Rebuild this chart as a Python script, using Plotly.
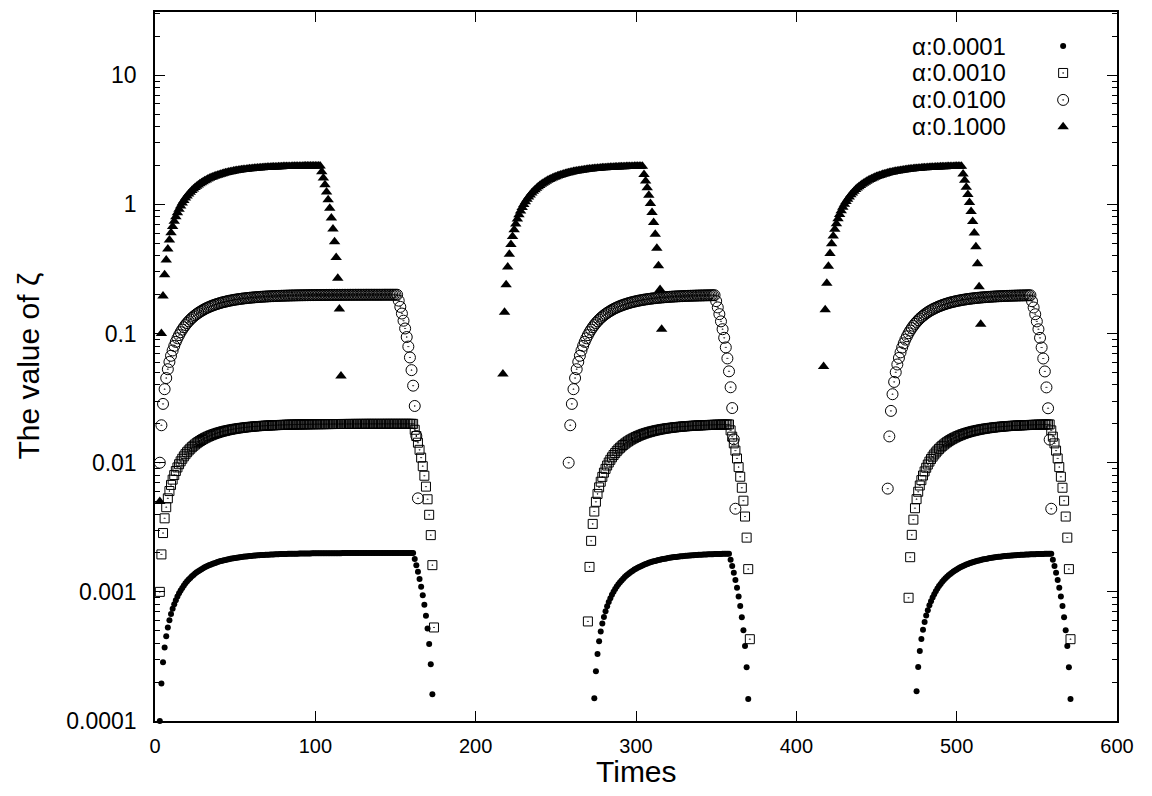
import plotly.graph_objects as go

# ---------------- data ----------------
SERIES_NAMES = ["α:0.0001", "α:0.0010", "α:0.0100", "α:0.1000"]
X_TICKS = [0, 100, 200, 300, 400, 500, 600]
Y_TICKS = [1e-4, 1e-3, 1e-2, 1e-1, 1, 10]
Y_TICK_TEXT = ["0.0001", "0.001", "0.01", "0.1", "1", "10"]

# first time step of each plotted segment (consecutive integer time steps follow)
DOT_STARTS = [3, 274, 475]
SQR_STARTS = [3, 270, 470]
CIR_STARTS = [3, 258, 457]
TRI_STARTS = [3, 217, 417]

# ---- alpha = 0.0001 (filled dots) ----
DOT_SEG1 = [
    1.0e-4, 1.95e-4, 2.853e-4, 3.71e-4, 4.524e-4, 5.298e-4, 6.033e-4, 6.732e-4, 7.395e-4, 8.025e-4,
    8.624e-4, 9.193e-4, 9.733e-4, 10.25e-4, 10.73e-4, 11.2e-4, 11.64e-4, 12.06e-4, 12.45e-4, 12.83e-4,
    13.19e-4, 13.53e-4, 13.85e-4, 14.16e-4, 14.45e-4, 14.73e-4, 14.99e-4, 15.24e-4, 15.48e-4, 15.71e-4,
    15.92e-4, 16.13e-4, 16.32e-4, 16.5e-4, 16.68e-4, 16.84e-4, 17.0e-4, 17.15e-4, 17.3e-4, 17.43e-4,
    17.56e-4, 17.68e-4, 17.8e-4, 17.91e-4, 18.01e-4, 18.11e-4, 18.21e-4, 18.3e-4, 18.38e-4, 18.46e-4,
    18.54e-4, 18.61e-4, 18.68e-4, 18.75e-4, 18.81e-4, 18.87e-4, 18.93e-4, 18.98e-4, 19.03e-4, 19.08e-4,
    19.13e-4, 19.17e-4, 19.21e-4, 19.25e-4, 19.29e-4, 19.32e-4, 19.36e-4, 19.39e-4, 19.42e-4, 19.45e-4,
    19.48e-4, 19.5e-4, 19.53e-4, 19.55e-4, 19.57e-4, 19.6e-4, 19.62e-4, 19.63e-4, 19.65e-4, 19.67e-4,
    19.69e-4, 19.7e-4, 19.72e-4, 19.73e-4, 19.74e-4, 19.76e-4, 19.77e-4, 19.78e-4, 19.79e-4, 19.8e-4,
    19.81e-4, 19.82e-4, 19.83e-4, 19.84e-4, 19.85e-4, 19.86e-4, 19.86e-4, 19.87e-4, 19.88e-4, 19.88e-4,
    19.89e-4, 19.89e-4, 19.9e-4, 19.9e-4, 19.91e-4, 19.91e-4, 19.92e-4, 19.92e-4, 19.93e-4, 19.93e-4,
    19.93e-4, 19.94e-4, 19.94e-4, 19.94e-4, 19.95e-4, 19.95e-4, 19.95e-4, 19.95e-4, 19.96e-4, 19.96e-4,
    19.96e-4, 19.96e-4, 19.97e-4, 19.97e-4, 19.97e-4, 19.97e-4, 19.97e-4, 19.97e-4, 19.98e-4, 19.98e-4,
    19.98e-4, 19.98e-4, 19.98e-4, 19.98e-4, 19.98e-4, 19.98e-4, 19.98e-4, 19.98e-4, 19.98e-4, 19.98e-4,
    19.99e-4, 19.99e-4, 19.99e-4, 19.99e-4, 19.99e-4, 19.99e-4, 19.99e-4, 19.99e-4, 19.99e-4, 19.99e-4,
    19.99e-4, 19.99e-4, 19.99e-4, 19.99e-4, 19.99e-4, 19.99e-4, 19.99e-4, 19.99e-4, 19.99e-4,
    17.99e-4, 16.09e-4, 14.29e-4, 12.58e-4, 10.95e-4, 9.4e-4, 7.93e-4, 6.53e-4, 5.21e-4, 3.95e-4,
    2.75e-4, 1.61e-4,
]
DOT_SEG2 = [
    1.5e-4, 2.425e-4, 3.304e-4, 4.139e-4, 4.932e-4, 5.685e-4, 6.401e-4, 7.081e-4, 7.727e-4, 8.34e-4,
    8.923e-4, 9.477e-4, 10.0e-4, 10.5e-4, 10.98e-4, 11.43e-4, 11.86e-4, 12.27e-4, 12.65e-4, 13.02e-4,
    13.37e-4, 13.7e-4, 14.02e-4, 14.31e-4, 14.6e-4, 14.87e-4, 15.13e-4, 15.37e-4, 15.6e-4, 15.82e-4,
    16.03e-4, 16.23e-4, 16.42e-4, 16.6e-4, 16.77e-4, 16.93e-4, 17.08e-4, 17.23e-4, 17.37e-4, 17.5e-4,
    17.62e-4, 17.74e-4, 17.85e-4, 17.96e-4, 18.06e-4, 18.16e-4, 18.25e-4, 18.34e-4, 18.42e-4, 18.5e-4,
    18.58e-4, 18.65e-4, 18.72e-4, 18.78e-4, 18.84e-4, 18.9e-4, 18.95e-4, 19.01e-4, 19.06e-4, 19.1e-4,
    19.15e-4, 19.19e-4, 19.23e-4, 19.27e-4, 19.31e-4, 19.34e-4, 19.37e-4, 19.41e-4, 19.44e-4, 19.46e-4,
    19.49e-4, 19.52e-4, 19.54e-4, 19.56e-4, 19.58e-4, 19.61e-4, 19.63e-4, 19.64e-4, 19.66e-4, 19.68e-4,
    19.69e-4, 19.71e-4, 19.72e-4, 19.74e-4, 19.75e-4,
    17.76e-4, 15.87e-4, 14.08e-4, 12.38e-4, 10.76e-4, 9.22e-4, 7.76e-4, 6.37e-4, 5.05e-4, 3.8e-4,
    2.61e-4, 1.48e-4,
]
DOT_SEG3 = [
    1.7e-4, 2.615e-4, 3.484e-4, 4.31e-4, 5.095e-4, 5.84e-4, 6.548e-4, 7.22e-4, 7.859e-4, 8.466e-4,
    9.043e-4, 9.591e-4, 10.11e-4, 10.61e-4, 11.08e-4, 11.52e-4, 11.95e-4, 12.35e-4, 12.73e-4, 13.09e-4,
    13.44e-4, 13.77e-4, 14.08e-4, 14.38e-4, 14.66e-4, 14.92e-4, 15.18e-4, 15.42e-4, 15.65e-4, 15.87e-4,
    16.07e-4, 16.27e-4, 16.46e-4, 16.63e-4, 16.8e-4, 16.96e-4, 17.11e-4, 17.26e-4, 17.39e-4, 17.52e-4,
    17.65e-4, 17.77e-4, 17.88e-4, 17.98e-4, 18.08e-4, 18.18e-4, 18.27e-4, 18.36e-4, 18.44e-4, 18.52e-4,
    18.59e-4, 18.66e-4, 18.73e-4, 18.79e-4, 18.85e-4, 18.91e-4, 18.96e-4, 19.02e-4, 19.07e-4, 19.11e-4,
    19.16e-4, 19.2e-4, 19.24e-4, 19.28e-4, 19.31e-4, 19.35e-4, 19.38e-4, 19.41e-4, 19.44e-4, 19.47e-4,
    19.5e-4, 19.52e-4, 19.54e-4, 19.57e-4, 19.59e-4, 19.61e-4, 19.63e-4, 19.65e-4, 19.66e-4, 19.68e-4,
    19.7e-4, 19.71e-4, 19.73e-4, 19.74e-4, 19.75e-4,
    17.76e-4, 15.87e-4, 14.08e-4, 12.38e-4, 10.76e-4, 9.22e-4, 7.76e-4, 6.37e-4, 5.05e-4, 3.8e-4,
    2.61e-4, 1.48e-4,
]

# ---- alpha = 0.0010 (open squares) ----
SQR_SEG1 = [
    1.0e-3, 1.95e-3, 2.853e-3, 3.71e-3, 4.524e-3, 5.298e-3, 6.033e-3, 6.732e-3, 7.395e-3, 8.025e-3,
    8.624e-3, 9.193e-3, 9.733e-3, 10.25e-3, 10.73e-3, 11.2e-3, 11.64e-3, 12.06e-3, 12.45e-3, 12.83e-3,
    13.19e-3, 13.53e-3, 13.85e-3, 14.16e-3, 14.45e-3, 14.73e-3, 14.99e-3, 15.24e-3, 15.48e-3, 15.71e-3,
    15.92e-3, 16.13e-3, 16.32e-3, 16.5e-3, 16.68e-3, 16.84e-3, 17.0e-3, 17.15e-3, 17.3e-3, 17.43e-3,
    17.56e-3, 17.68e-3, 17.8e-3, 17.91e-3, 18.01e-3, 18.11e-3, 18.21e-3, 18.3e-3, 18.38e-3, 18.46e-3,
    18.54e-3, 18.61e-3, 18.68e-3, 18.75e-3, 18.81e-3, 18.87e-3, 18.93e-3, 18.98e-3, 19.03e-3, 19.08e-3,
    19.13e-3, 19.17e-3, 19.21e-3, 19.25e-3, 19.29e-3, 19.32e-3, 19.36e-3, 19.39e-3, 19.42e-3, 19.45e-3,
    19.48e-3, 19.5e-3, 19.53e-3, 19.55e-3, 19.57e-3, 19.6e-3, 19.62e-3, 19.63e-3, 19.65e-3, 19.67e-3,
    19.69e-3, 19.7e-3, 19.72e-3, 19.73e-3, 19.74e-3, 19.76e-3, 19.77e-3, 19.78e-3, 19.79e-3, 19.8e-3,
    19.81e-3, 19.82e-3, 19.83e-3, 19.84e-3, 19.85e-3, 19.86e-3, 19.86e-3, 19.87e-3, 19.88e-3, 19.88e-3,
    19.89e-3, 19.89e-3, 19.9e-3, 19.9e-3, 19.91e-3, 19.91e-3, 19.92e-3, 19.92e-3, 19.93e-3, 19.93e-3,
    19.93e-3, 19.94e-3, 19.94e-3, 19.94e-3, 19.95e-3, 19.95e-3, 19.95e-3, 19.95e-3, 19.96e-3, 19.96e-3,
    19.96e-3, 19.96e-3, 19.97e-3, 19.97e-3, 19.97e-3, 19.97e-3, 19.97e-3, 19.97e-3, 19.98e-3, 19.98e-3,
    19.98e-3, 19.98e-3, 19.98e-3, 19.98e-3, 19.98e-3, 19.98e-3, 19.98e-3, 19.98e-3, 19.98e-3, 19.98e-3,
    19.99e-3, 19.99e-3, 19.99e-3, 19.99e-3, 19.99e-3, 19.99e-3, 19.99e-3, 19.99e-3, 19.99e-3, 19.99e-3,
    19.99e-3, 19.99e-3, 19.99e-3, 19.99e-3, 19.99e-3, 19.99e-3, 19.99e-3, 19.99e-3, 19.99e-3,
    17.99e-3, 16.09e-3, 14.29e-3, 12.58e-3, 10.95e-3, 9.4e-3, 7.93e-3, 6.53e-3, 5.21e-3, 3.95e-3,
    2.75e-3, 1.61e-3, 0.53e-3,
]
SQR_SEG2 = [
    0.59e-3, 1.56e-3, 2.482e-3, 3.358e-3, 4.19e-3, 4.981e-3, 5.732e-3, 6.445e-3, 7.123e-3, 7.767e-3,
    8.378e-3, 8.96e-3, 9.512e-3, 10.04e-3, 10.53e-3, 11.01e-3, 11.46e-3, 11.88e-3, 12.29e-3, 12.68e-3,
    13.04e-3, 13.38e-3, 13.71e-3, 14.03e-3, 14.33e-3, 14.61e-3, 14.88e-3, 15.14e-3, 15.38e-3, 15.61e-3,
    15.83e-3, 16.04e-3, 16.24e-3, 16.43e-3, 16.61e-3, 16.78e-3, 16.94e-3, 17.09e-3, 17.24e-3, 17.37e-3,
    17.51e-3, 17.63e-3, 17.75e-3, 17.86e-3, 17.97e-3, 18.07e-3, 18.17e-3, 18.26e-3, 18.35e-3, 18.43e-3,
    18.51e-3, 18.58e-3, 18.65e-3, 18.72e-3, 18.78e-3, 18.84e-3, 18.9e-3, 18.96e-3, 19.01e-3, 19.06e-3,
    19.11e-3, 19.15e-3, 19.19e-3, 19.23e-3, 19.27e-3, 19.31e-3, 19.34e-3, 19.38e-3, 19.41e-3, 19.44e-3,
    19.47e-3, 19.49e-3, 19.52e-3, 19.54e-3, 19.56e-3, 19.59e-3, 19.61e-3, 19.63e-3, 19.64e-3, 19.66e-3,
    19.68e-3, 19.7e-3, 19.71e-3, 19.73e-3, 19.74e-3, 19.75e-3, 19.76e-3, 19.78e-3, 19.79e-3,
    17.8e-3, 15.91e-3, 14.12e-3, 12.41e-3, 10.79e-3, 9.25e-3, 7.79e-3, 6.4e-3, 5.08e-3, 3.83e-3,
    2.63e-3, 1.5e-3, 0.43e-3,
]
SQR_SEG3 = [
    0.9e-3, 1.855e-3, 2.762e-3, 3.624e-3, 4.443e-3, 5.221e-3, 5.96e-3, 6.662e-3, 7.329e-3, 7.962e-3,
    8.564e-3, 9.136e-3, 9.679e-3, 10.2e-3, 10.69e-3, 11.15e-3, 11.59e-3, 12.01e-3, 12.41e-3, 12.79e-3,
    13.15e-3, 13.5e-3, 13.82e-3, 14.13e-3, 14.42e-3, 14.7e-3, 14.97e-3, 15.22e-3, 15.46e-3, 15.68e-3,
    15.9e-3, 16.11e-3, 16.3e-3, 16.49e-3, 16.66e-3, 16.83e-3, 16.99e-3, 17.14e-3, 17.28e-3, 17.42e-3,
    17.55e-3, 17.67e-3, 17.78e-3, 17.9e-3, 18.0e-3, 18.1e-3, 18.2e-3, 18.29e-3, 18.37e-3, 18.45e-3,
    18.53e-3, 18.6e-3, 18.67e-3, 18.74e-3, 18.8e-3, 18.86e-3, 18.92e-3, 18.97e-3, 19.03e-3, 19.07e-3,
    19.12e-3, 19.16e-3, 19.21e-3, 19.25e-3, 19.28e-3, 19.32e-3, 19.35e-3, 19.39e-3, 19.42e-3, 19.45e-3,
    19.47e-3, 19.5e-3, 19.52e-3, 19.55e-3, 19.57e-3, 19.59e-3, 19.61e-3, 19.63e-3, 19.65e-3, 19.67e-3,
    19.68e-3, 19.7e-3, 19.72e-3, 19.73e-3, 19.74e-3, 19.76e-3, 19.77e-3, 19.78e-3, 19.79e-3,
    17.8e-3, 15.91e-3, 14.12e-3, 12.41e-3, 10.79e-3, 9.25e-3, 7.79e-3, 6.4e-3, 5.08e-3, 3.83e-3,
    2.63e-3, 1.5e-3, 0.43e-3,
]

# ---- alpha = 0.0100 (open circles) ----
CIR_SEG1 = [
    1.0e-2, 1.95e-2, 2.853e-2, 3.71e-2, 4.524e-2, 5.298e-2, 6.033e-2, 6.732e-2, 7.395e-2, 8.025e-2,
    8.624e-2, 9.193e-2, 9.733e-2, 10.25e-2, 10.73e-2, 11.2e-2, 11.64e-2, 12.06e-2, 12.45e-2, 12.83e-2,
    13.19e-2, 13.53e-2, 13.85e-2, 14.16e-2, 14.45e-2, 14.73e-2, 14.99e-2, 15.24e-2, 15.48e-2, 15.71e-2,
    15.92e-2, 16.13e-2, 16.32e-2, 16.5e-2, 16.68e-2, 16.84e-2, 17.0e-2, 17.15e-2, 17.3e-2, 17.43e-2,
    17.56e-2, 17.68e-2, 17.8e-2, 17.91e-2, 18.01e-2, 18.11e-2, 18.21e-2, 18.3e-2, 18.38e-2, 18.46e-2,
    18.54e-2, 18.61e-2, 18.68e-2, 18.75e-2, 18.81e-2, 18.87e-2, 18.93e-2, 18.98e-2, 19.03e-2, 19.08e-2,
    19.13e-2, 19.17e-2, 19.21e-2, 19.25e-2, 19.29e-2, 19.32e-2, 19.36e-2, 19.39e-2, 19.42e-2, 19.45e-2,
    19.48e-2, 19.5e-2, 19.53e-2, 19.55e-2, 19.57e-2, 19.6e-2, 19.62e-2, 19.63e-2, 19.65e-2, 19.67e-2,
    19.69e-2, 19.7e-2, 19.72e-2, 19.73e-2, 19.74e-2, 19.76e-2, 19.77e-2, 19.78e-2, 19.79e-2, 19.8e-2,
    19.81e-2, 19.82e-2, 19.83e-2, 19.84e-2, 19.85e-2, 19.86e-2, 19.86e-2, 19.87e-2, 19.88e-2, 19.88e-2,
    19.89e-2, 19.89e-2, 19.9e-2, 19.9e-2, 19.91e-2, 19.91e-2, 19.92e-2, 19.92e-2, 19.93e-2, 19.93e-2,
    19.93e-2, 19.94e-2, 19.94e-2, 19.94e-2, 19.95e-2, 19.95e-2, 19.95e-2, 19.95e-2, 19.96e-2, 19.96e-2,
    19.96e-2, 19.96e-2, 19.97e-2, 19.97e-2, 19.97e-2, 19.97e-2, 19.97e-2, 19.97e-2, 19.98e-2, 19.98e-2,
    19.98e-2, 19.98e-2, 19.98e-2, 19.98e-2, 19.98e-2, 19.98e-2, 19.98e-2, 19.98e-2, 19.98e-2, 19.98e-2,
    19.99e-2, 19.99e-2, 19.99e-2, 19.99e-2, 19.99e-2, 19.99e-2, 19.99e-2, 19.99e-2, 19.99e-2,
    17.99e-2, 16.09e-2, 14.29e-2, 12.58e-2, 10.95e-2, 9.4e-2, 7.93e-2, 6.53e-2, 5.21e-2, 3.95e-2,
    2.75e-2, 1.61e-2, 0.53e-2,
]
CIR_SEG2 = [
    1.0e-2, 1.95e-2, 2.853e-2, 3.71e-2, 4.524e-2, 5.298e-2, 6.033e-2, 6.732e-2, 7.395e-2, 8.025e-2,
    8.624e-2, 9.193e-2, 9.733e-2, 10.25e-2, 10.73e-2, 11.2e-2, 11.64e-2, 12.06e-2, 12.45e-2, 12.83e-2,
    13.19e-2, 13.53e-2, 13.85e-2, 14.16e-2, 14.45e-2, 14.73e-2, 14.99e-2, 15.24e-2, 15.48e-2, 15.71e-2,
    15.92e-2, 16.13e-2, 16.32e-2, 16.5e-2, 16.68e-2, 16.84e-2, 17.0e-2, 17.15e-2, 17.3e-2, 17.43e-2,
    17.56e-2, 17.68e-2, 17.8e-2, 17.91e-2, 18.01e-2, 18.11e-2, 18.21e-2, 18.3e-2, 18.38e-2, 18.46e-2,
    18.54e-2, 18.61e-2, 18.68e-2, 18.75e-2, 18.81e-2, 18.87e-2, 18.93e-2, 18.98e-2, 19.03e-2, 19.08e-2,
    19.13e-2, 19.17e-2, 19.21e-2, 19.25e-2, 19.29e-2, 19.32e-2, 19.36e-2, 19.39e-2, 19.42e-2, 19.45e-2,
    19.48e-2, 19.5e-2, 19.53e-2, 19.55e-2, 19.57e-2, 19.6e-2, 19.62e-2, 19.63e-2, 19.65e-2, 19.67e-2,
    19.69e-2, 19.7e-2, 19.72e-2, 19.73e-2, 19.74e-2, 19.76e-2, 19.77e-2, 19.78e-2, 19.79e-2, 19.8e-2,
    19.81e-2, 19.82e-2,
    17.83e-2, 15.94e-2, 14.14e-2, 12.43e-2, 10.81e-2, 9.27e-2, 7.81e-2, 6.42e-2, 5.1e-2, 3.84e-2,
    2.65e-2, 1.52e-2, 0.44e-2,
]
CIR_SEG3 = [
    0.63e-2, 1.598e-2, 2.519e-2, 3.392e-2, 4.223e-2, 5.012e-2, 5.761e-2, 6.473e-2, 7.15e-2, 7.792e-2,
    8.403e-2, 8.983e-2, 9.534e-2, 10.06e-2, 10.55e-2, 11.03e-2, 11.48e-2, 11.9e-2, 12.31e-2, 12.69e-2,
    13.06e-2, 13.4e-2, 13.73e-2, 14.05e-2, 14.34e-2, 14.63e-2, 14.9e-2, 15.15e-2, 15.39e-2, 15.62e-2,
    15.84e-2, 16.04e-2, 16.24e-2, 16.43e-2, 16.61e-2, 16.78e-2, 16.94e-2, 17.09e-2, 17.24e-2, 17.38e-2,
    17.51e-2, 17.63e-2, 17.75e-2, 17.86e-2, 17.97e-2, 18.07e-2, 18.17e-2, 18.26e-2, 18.35e-2, 18.43e-2,
    18.51e-2, 18.58e-2, 18.65e-2, 18.72e-2, 18.78e-2, 18.84e-2, 18.9e-2, 18.96e-2, 19.01e-2, 19.06e-2,
    19.11e-2, 19.15e-2, 19.19e-2, 19.23e-2, 19.27e-2, 19.31e-2, 19.34e-2, 19.38e-2, 19.41e-2, 19.44e-2,
    19.47e-2, 19.49e-2, 19.52e-2, 19.54e-2, 19.56e-2, 19.59e-2, 19.61e-2, 19.63e-2, 19.64e-2, 19.66e-2,
    19.68e-2, 19.7e-2, 19.71e-2, 19.73e-2, 19.74e-2, 19.75e-2, 19.76e-2, 19.78e-2, 19.79e-2, 19.8e-2,
    17.81e-2, 15.92e-2, 14.12e-2, 12.42e-2, 10.8e-2, 9.26e-2, 7.8e-2, 6.41e-2, 5.09e-2, 3.83e-2,
    2.64e-2, 1.51e-2, 0.44e-2,
]

# ---- alpha = 0.1000 (filled triangles) ----
TRI_SEG1 = [
    0.05e-1,
    1.0e-1, 1.95e-1, 2.853e-1, 3.71e-1, 4.524e-1, 5.298e-1, 6.033e-1, 6.732e-1, 7.395e-1, 8.025e-1,
    8.624e-1, 9.193e-1, 9.733e-1, 10.25e-1, 10.73e-1, 11.2e-1, 11.64e-1, 12.06e-1, 12.45e-1, 12.83e-1,
    13.19e-1, 13.53e-1, 13.85e-1, 14.16e-1, 14.45e-1, 14.73e-1, 14.99e-1, 15.24e-1, 15.48e-1, 15.71e-1,
    15.92e-1, 16.13e-1, 16.32e-1, 16.5e-1, 16.68e-1, 16.84e-1, 17.0e-1, 17.15e-1, 17.3e-1, 17.43e-1,
    17.56e-1, 17.68e-1, 17.8e-1, 17.91e-1, 18.01e-1, 18.11e-1, 18.21e-1, 18.3e-1, 18.38e-1, 18.46e-1,
    18.54e-1, 18.61e-1, 18.68e-1, 18.75e-1, 18.81e-1, 18.87e-1, 18.93e-1, 18.98e-1, 19.03e-1, 19.08e-1,
    19.13e-1, 19.17e-1, 19.21e-1, 19.25e-1, 19.29e-1, 19.32e-1, 19.36e-1, 19.39e-1, 19.42e-1, 19.45e-1,
    19.48e-1, 19.5e-1, 19.53e-1, 19.55e-1, 19.57e-1, 19.6e-1, 19.62e-1, 19.63e-1, 19.65e-1, 19.67e-1,
    19.69e-1, 19.7e-1, 19.72e-1, 19.73e-1, 19.74e-1, 19.76e-1, 19.77e-1, 19.78e-1, 19.79e-1, 19.8e-1,
    19.81e-1, 19.82e-1, 19.83e-1, 19.84e-1, 19.85e-1, 19.86e-1, 19.86e-1, 19.87e-1, 19.88e-1, 19.88e-1,
    17.89e-1, 15.99e-1, 14.19e-1, 12.48e-1, 10.86e-1, 9.32e-1, 7.85e-1, 6.46e-1, 5.14e-1, 3.88e-1,
    2.68e-1, 1.55e-1, 0.47e-1,
]
TRI_SEG2 = [
    0.487e-1, 1.463e-1, 2.39e-1, 3.27e-1, 4.106e-1, 4.901e-1, 5.656e-1, 6.373e-1, 7.055e-1, 7.702e-1,
    8.317e-1, 8.901e-1, 9.456e-1, 9.983e-1, 10.48e-1, 10.96e-1, 11.41e-1, 11.84e-1, 12.25e-1, 12.64e-1,
    13.0e-1, 13.36e-1, 13.69e-1, 14.0e-1, 14.3e-1, 14.59e-1, 14.86e-1, 15.12e-1, 15.36e-1, 15.59e-1,
    15.81e-1, 16.02e-1, 16.22e-1, 16.41e-1, 16.59e-1, 16.76e-1, 16.92e-1, 17.08e-1, 17.22e-1, 17.36e-1,
    17.49e-1, 17.62e-1, 17.74e-1, 17.85e-1, 17.96e-1, 18.06e-1, 18.16e-1, 18.25e-1, 18.34e-1, 18.42e-1,
    18.5e-1, 18.57e-1, 18.65e-1, 18.71e-1, 18.78e-1, 18.84e-1, 18.9e-1, 18.95e-1, 19.0e-1, 19.05e-1,
    19.1e-1, 19.15e-1, 19.19e-1, 19.23e-1, 19.27e-1, 19.3e-1, 19.34e-1, 19.37e-1, 19.4e-1, 19.43e-1,
    19.46e-1, 19.49e-1, 19.51e-1, 19.54e-1, 19.56e-1, 19.58e-1, 19.6e-1, 19.62e-1, 19.64e-1, 19.66e-1,
    19.68e-1, 19.69e-1, 19.71e-1, 19.72e-1, 19.74e-1, 19.75e-1, 19.76e-1, 19.78e-1,
    17.05e-1, 15.2e-1, 13.44e-1, 11.77e-1, 10.18e-1, 8.67e-1, 7.24e-1, 5.88e-1, 4.58e-1, 3.35e-1,
    2.19e-1, 1.08e-1,
]
TRI_SEG3 = [
    0.555e-1, 1.527e-1, 2.451e-1, 3.328e-1, 4.162e-1, 4.954e-1, 5.706e-1, 6.421e-1, 7.1e-1, 7.745e-1,
    8.358e-1, 8.94e-1, 9.493e-1, 10.02e-1, 10.52e-1, 10.99e-1, 11.44e-1, 11.87e-1, 12.28e-1, 12.66e-1,
    13.03e-1, 13.38e-1, 13.71e-1, 14.02e-1, 14.32e-1, 14.61e-1, 14.88e-1, 15.13e-1, 15.38e-1, 15.61e-1,
    15.83e-1, 16.04e-1, 16.23e-1, 16.42e-1, 16.6e-1, 16.77e-1, 16.93e-1, 17.09e-1, 17.23e-1, 17.37e-1,
    17.5e-1, 17.63e-1, 17.75e-1, 17.86e-1, 17.97e-1, 18.07e-1, 18.16e-1, 18.26e-1, 18.34e-1, 18.43e-1,
    18.5e-1, 18.58e-1, 18.65e-1, 18.72e-1, 18.78e-1, 18.84e-1, 18.9e-1, 18.96e-1, 19.01e-1, 19.06e-1,
    19.1e-1, 19.15e-1, 19.19e-1, 19.23e-1, 19.27e-1, 19.31e-1, 19.34e-1, 19.37e-1, 19.41e-1, 19.44e-1,
    19.46e-1, 19.49e-1, 19.52e-1, 19.54e-1, 19.56e-1, 19.59e-1, 19.61e-1, 19.63e-1, 19.64e-1, 19.66e-1,
    19.68e-1, 19.7e-1, 19.71e-1, 19.73e-1, 19.74e-1, 19.75e-1, 19.76e-1,
    17.24e-1, 15.38e-1, 13.61e-1, 11.93e-1, 10.33e-1, 8.82e-1, 7.38e-1, 6.01e-1, 4.71e-1, 3.47e-1,
    2.3e-1, 1.18e-1,
]

# ---------------- figure ----------------
FONT = "Liberation Sans, Arial, Helvetica, sans-serif"

MARKERS = [
    dict(symbol="circle", size=6, color="black", line=dict(width=0)),
    dict(symbol="square-open-dot", size=9, color="black", line=dict(width=1, color="black")),
    dict(symbol="circle-open-dot", size=11, color="black", line=dict(width=1, color="black")),
    dict(symbol="triangle-up", size=10, color="black", line=dict(width=0)),
]
STARTS = [DOT_STARTS, SQR_STARTS, CIR_STARTS, TRI_STARTS]
SEGMENTS = [
    [DOT_SEG1, DOT_SEG2, DOT_SEG3],
    [SQR_SEG1, SQR_SEG2, SQR_SEG3],
    [CIR_SEG1, CIR_SEG2, CIR_SEG3],
    [TRI_SEG1, TRI_SEG2, TRI_SEG3],
]

fig = go.Figure()
for name, starts, segs, mk in zip(SERIES_NAMES, STARTS, SEGMENTS, MARKERS):
    xs, ys = [], []
    for s0, vals in zip(starts, segs):
        xs.extend(range(s0, s0 + len(vals)))
        ys.extend(vals)
    fig.add_trace(go.Scatter(x=xs, y=ys, mode="markers", marker=mk, name=name,
                             showlegend=False, cliponaxis=False))

# legend (gnuplot style: text, then sample) on an invisible overlay axis
LEG_ROWS = [0.952, 0.914, 0.876, 0.838]
LEG_MARK_X = 0.944
LEG_TEXT_X = 0.886
for name, mk, ry in zip(SERIES_NAMES, MARKERS, LEG_ROWS):
    fig.add_trace(go.Scatter(x=[LEG_MARK_X], y=[ry], mode="markers", marker=mk,
                             xaxis="x2", yaxis="y2", showlegend=False, cliponaxis=False))
    fig.add_annotation(x=LEG_TEXT_X, y=ry, xref="paper", yref="paper", text=name,
                       showarrow=False, xanchor="right", yanchor="middle",
                       borderpad=0, font=dict(family=FONT, size=24, color="black"))

minor_vals = [m * 10.0 ** e for e in range(-4, 2) for m in range(2, 10)]

# the page body has an 8px margin, so the figure is drawn 8px in from the corner
fig.update_layout(
    width=1144, height=788,
    margin=dict(l=147, r=35, t=2, b=75),
    plot_bgcolor="white", paper_bgcolor="white",
    font=dict(family=FONT, color="black"),
    xaxis=dict(range=[0, 600], tickvals=X_TICKS, ticks="inside", ticklen=10, tickwidth=1,
               tickcolor="black", showline=True, linecolor="black", linewidth=1.5,
               mirror="allticks", showgrid=False, zeroline=False,
               tickfont=dict(family=FONT, size=20, color="black"), ticklabelstandoff=6),
    yaxis=dict(type="log", range=[-4, 1.49], tickvals=Y_TICKS, ticktext=Y_TICK_TEXT,
               ticks="inside", ticklen=10, tickwidth=1, tickcolor="black",
               showline=True, linecolor="black", linewidth=1.5, mirror="allticks",
               showgrid=False, zeroline=False,
               tickfont=dict(family=FONT, size=23, color="black"), ticklabelstandoff=12,
               minor=dict(tickvals=minor_vals, ticks="inside", ticklen=5, tickwidth=1,
                          tickcolor="black", showgrid=False)),
    xaxis2=dict(overlaying="x", range=[0, 1], visible=False, anchor="y2"),
    yaxis2=dict(overlaying="y", range=[0, 1], visible=False, anchor="x2"),
)
fig.add_annotation(x=0.5, y=-0.071, xref="paper", yref="paper", text="Times", showarrow=False,
                   xanchor="center", yanchor="middle", height=26, valign="middle",
                   font=dict(family=FONT, size=30, color="black"))
fig.add_annotation(x=-0.132, y=0.5, xref="paper", yref="paper", text="The value of ζ",
                   showarrow=False, textangle=-90, xanchor="center", yanchor="middle",
                   font=dict(family=FONT, size=30, color="black"))

fig.write_html("out.html")
